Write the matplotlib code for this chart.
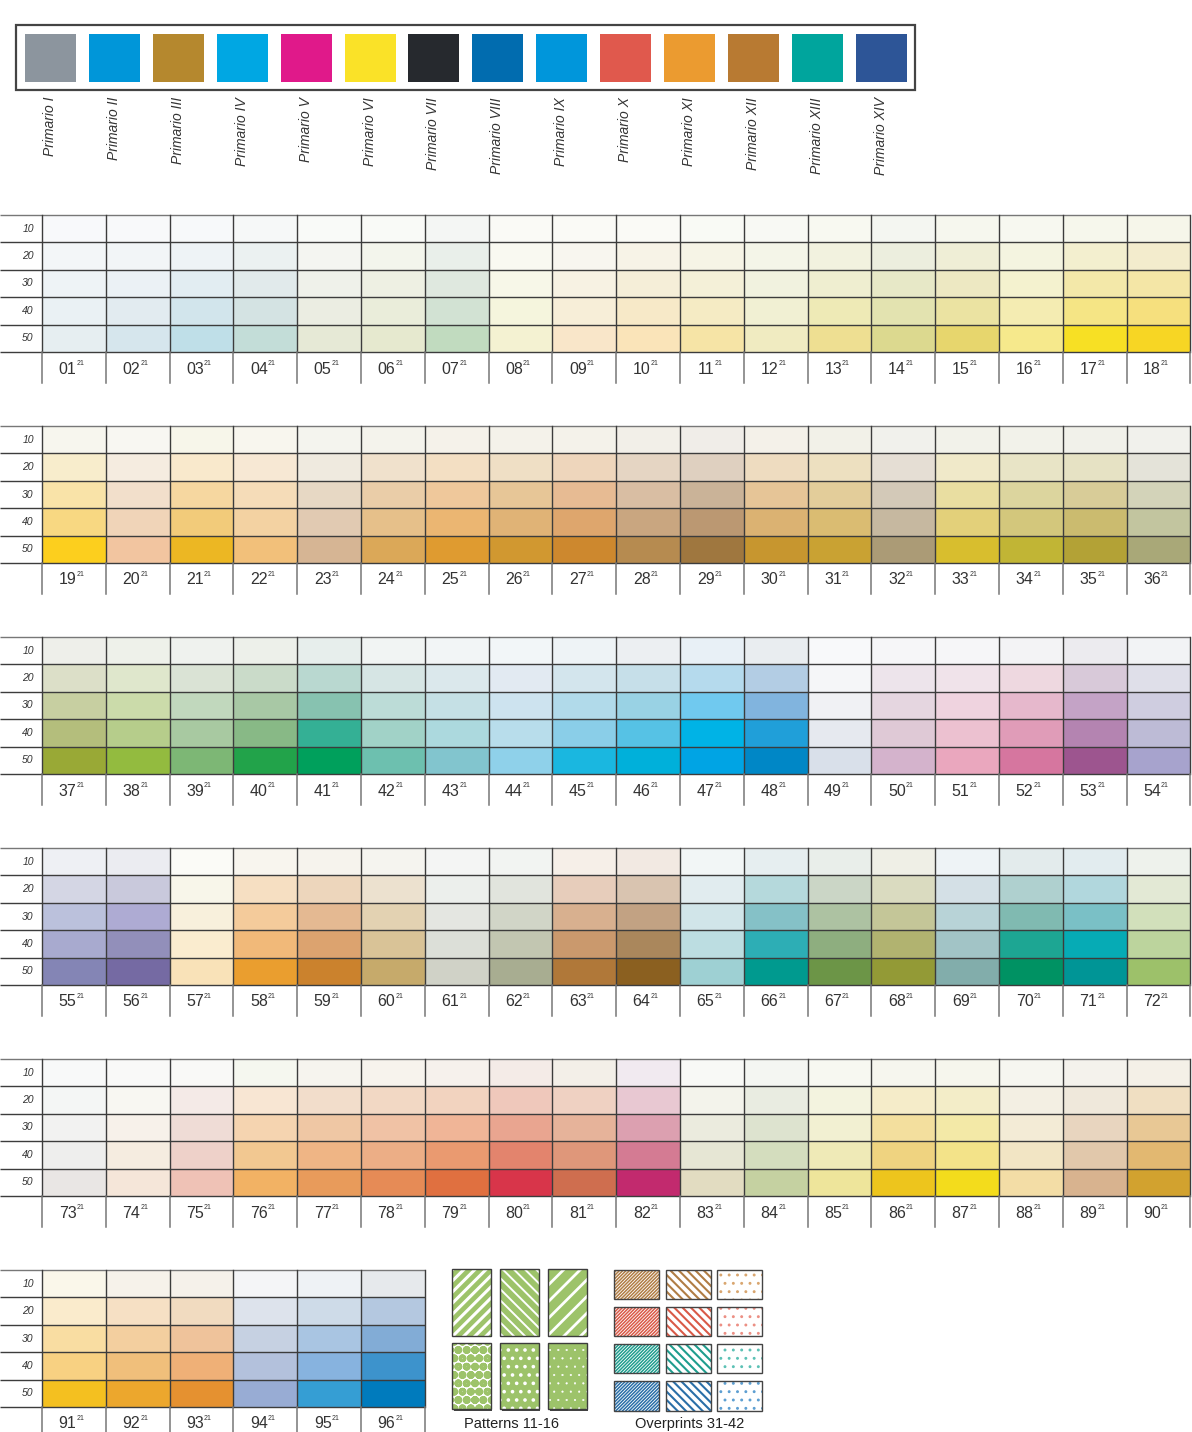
import matplotlib
matplotlib.use('Agg')
import matplotlib.pyplot as plt
from matplotlib import font_manager
from matplotlib.patches import Rectangle

plt.rcParams['font.family'] = ['Liberation Sans', 'DejaVu Sans']
plt.rcParams['hatch.linewidth'] = 1.6

installed = {f.name for f in font_manager.fontManager.ttflist}
num_font = 'Liberation Sans Narrow' if 'Liberation Sans Narrow' in installed else 'Liberation Sans'

primaries = ['#8c959e', '#0096d9', '#b5882e', '#00a7e3', '#e0198a', '#fae228', '#26292e',
             '#016caf', '#0096db', '#e0594d', '#eb9b30', '#b87a32', '#00a59d', '#2d5597']
primary_names = ['Primario I', 'Primario II', 'Primario III', 'Primario IV', 'Primario V',
                 'Primario VI', 'Primario VII', 'Primario VIII', 'Primario IX', 'Primario X',
                 'Primario XI', 'Primario XII', 'Primario XIII', 'Primario XIV']

tint_rows = ['10', '20', '30', '40', '50']

# each column: tints 10, 20, 30, 40, 50
block1 = [
    ['#f8f9fb', '#f3f6f8', '#eef3f6', '#eaf1f4', '#e6eef1'],
    ['#f8f9fa', '#f2f5f7', '#ebf1f5', '#e2ebf0', '#d6e6ed'],
    ['#f7f9fa', '#eef3f6', '#e2edf2', '#d2e5ec', '#bfdfe8'],
    ['#f6f8f8', '#ebf1f1', '#e1eaeb', '#d4e3e3', '#c3ddd8'],
    ['#f9faf8', '#f4f5f1', '#eff1ea', '#ebede2', '#e6e9d6'],
    ['#f9faf7', '#f3f5ec', '#eef0e3', '#eaedda', '#e6e9cf'],
    ['#f4f6f4', '#e9efea', '#dfe8df', '#d2e2d3', '#c1dbbf'],
    ['#fafaf6', '#f9f9f1', '#f7f7e8', '#f5f5dd', '#f4f2d2'],
    ['#fafaf6', '#f8f6ef', '#f7f2e3', '#f7eed8', '#f9e6c9'],
    ['#fafaf6', '#f7f3e7', '#f5eed8', '#f7e9c8', '#fae4b9'],
    ['#f9faf5', '#f6f4e6', '#f4f0d8', '#f5ebc4', '#f6e4a6'],
    ['#f8f9f4', '#f4f5e8', '#f1f2df', '#f1f0d3', '#f0ebc1'],
    ['#f8f9f1', '#f2f2df', '#efeed0', '#eeeab6', '#eedf92'],
    ['#f4f6f1', '#eceede', '#e7e8c7', '#e3e3b0', '#dcd98f'],
    ['#f6f7ee', '#efeed6', '#ede8c2', '#ebe3a2', '#e7d66d'],
    ['#f7f8f0', '#f4f4e0', '#f4f2cf', '#f4ecb2', '#f6e98c'],
    ['#f6f7ec', '#f3efcf', '#f3e8a9', '#f5e585', '#f7e024'],
    ['#f6f6ea', '#f3eccd', '#f4e6a6', '#f6e07e', '#f7d624'],
]
block2 = [
    ['#f7f6ee', '#f8edcc', '#f9e3a8', '#f8d882', '#fccf1e'],
    ['#f8f7f2', '#f5ece0', '#f2dfcb', '#f0d4b8', '#f2c5a0'],
    ['#f7f6ea', '#f9e9cc', '#f6d7a0', '#f2cb7a', '#ecb723'],
    ['#f8f6ee', '#f7e8d4', '#f5dcb8', '#f3d2a2', '#f2c07a'],
    ['#f4f4ee', '#efeadf', '#e7d8c4', '#e1cab2', '#d6b594'],
    ['#f4f3ec', '#f0e1cc', '#eacda8', '#e6c08a', '#dba858'],
    ['#f5f2ea', '#f3dfc3', '#efc89b', '#ebb672', '#df9b30'],
    ['#f4f2ea', '#efdfc5', '#e7c697', '#e0b376', '#d19830'],
    ['#f4f2ea', '#eed6bc', '#e7bb93', '#dea66d', '#cd882e'],
    ['#f2efe8', '#e5d5c3', '#d9bea3', '#c9a680', '#b68b50'],
    ['#f0ede8', '#dfd0c0', '#cab398', '#bb9872', '#9f773f'],
    ['#f4f1e9', '#eedcc0', '#e6c597', '#dbb272', '#c7962f'],
    ['#f2f1e8', '#ede0c0', '#e3cd9a', '#dabc72', '#c9a233'],
    ['#f1f1ec', '#e5ded4', '#d3c9b8', '#c6b8a0', '#ab9b76'],
    ['#f2f2ea', '#f0e9c9', '#e9dea1', '#e3d07a', '#d8be2e'],
    ['#f2f2ea', '#e8e4c6', '#dcd59e', '#d3c77c', '#c1b535'],
    ['#f1f1ea', '#e6e2c4', '#d8cc98', '#cbbb6f', '#b3a236'],
    ['#f1f1ec', '#e4e3d9', '#d3d3b9', '#c2c59f', '#a9a878'],
]
block3 = [
    ['#eeefea', '#dcdfc8', '#c7cfa1', '#b4be7c', '#99a936'],
    ['#eef1ea', '#dfe7cc', '#cbdbaa', '#b6cd8b', '#93bb3f'],
    ['#eff2ee', '#dae3d5', '#c1d8bd', '#a8c9a1', '#7db775'],
    ['#edf0ea', '#cadbc9', '#a8c8a5', '#88b986', '#22a34a'],
    ['#e7eeec', '#b9d8d0', '#87c2b0', '#34b095', '#00a05c'],
    ['#f1f4f3', '#d6e5e4', '#bcdcd7', '#a1d2c7', '#6dc0af'],
    ['#f2f5f6', '#dbe8ec', '#c5e0e5', '#acd9de', '#82c5ce'],
    ['#f2f6f8', '#e2eaf2', '#cde3ef', '#b8ddeb', '#8fd1ea'],
    ['#eef3f6', '#d3e5ed', '#b1daea', '#8acee8', '#1ab7e0'],
    ['#eceff2', '#c6dfe9', '#99d2e4', '#56c2e5', '#00b0da'],
    ['#e8f0f6', '#b5daed', '#70c9ef', '#00b3e6', '#00a4e4'],
    ['#e9edf0', '#b3cde4', '#81b4de', '#209fd9', '#0087c6'],
    ['#f8f9fa', '#f5f6f8', '#f0f1f4', '#e6e9ef', '#d9e0ea'],
    ['#f6f6f8', '#ede4eb', '#e5d6e0', '#dfc9d6', '#d4b3cc'],
    ['#f6f6f8', '#f0e3ea', '#efd3df', '#ecc1d0', '#eaa7be'],
    ['#f3f3f5', '#eed8e0', '#e6b8cc', '#e09cb8', '#d6769f'],
    ['#ecebef', '#d8c9d9', '#c4a3c6', '#b484b1', '#9d558f'],
    ['#f2f3f5', '#dfdfe9', '#cfcde0', '#bdbbd6', '#a7a3cd'],
]
block4 = [
    ['#eef0f4', '#d4d6e4', '#bbc1dc', '#a8aacf', '#8485b5'],
    ['#ebecf1', '#c9c9dc', '#aeabd3', '#928fba', '#756aa3'],
    ['#fbfbf7', '#f8f6ea', '#f8f0dc', '#faeccf', '#f9e2b8'],
    ['#f8f5ee', '#f6dfc2', '#f4cb9b', '#f1b979', '#ea9e2f'],
    ['#f6f3ed', '#edd6bc', '#e4b992', '#dca36f', '#cb822d'],
    ['#f5f4ef', '#ece1cf', '#e3d2b2', '#d9c397', '#c6aa6b'],
    ['#f4f5f4', '#ecefec', '#e4e6e1', '#dcdfd8', '#d0d2c7'],
    ['#f2f4f2', '#e1e4dd', '#d1d5c7', '#c2c6b1', '#a8ad91'],
    ['#f6efe8', '#e7cdbb', '#d8b08f', '#ca996d', '#b07839'],
    ['#f2e9e2', '#d9c4b0', '#c2a283', '#aa875c', '#8b6020'],
    ['#f2f6f6', '#e1ecef', '#d1e5e9', '#bcdde1', '#9ed0d3'],
    ['#e6eef0', '#b5d9dc', '#85c1c7', '#2daeb5', '#009a8f'],
    ['#e9eeea', '#cbd6c6', '#adc2a2', '#8eae7f', '#6c9547'],
    ['#efefe6', '#dadbc0', '#c4c698', '#b1b370', '#939a36'],
    ['#eef3f6', '#d4e0e6', '#b8d3d7', '#a2c4c6', '#82adab'],
    ['#e3ebec', '#afd0cf', '#80bab1', '#1da693', '#009263'],
    ['#e2ecef', '#b1d7dd', '#7ac0c6', '#06abb5', '#009596'],
    ['#eef2ec', '#e3e9d5', '#d2e0bb', '#bcd49d', '#9dc16a'],
]
block5 = [
    ['#f8f9f9', '#f4f6f5', '#f2f2f1', '#eeeeed', '#e9e6e4'],
    ['#f9f9f8', '#f8f7f2', '#f7f1ea', '#f5ece0', '#f5e6d9'],
    ['#f9f9f7', '#f4eae7', '#efdcd6', '#eed1c9', '#efc2b6'],
    ['#f5f7ef', '#f8e6d3', '#f5d4b0', '#f2c891', '#f2b264'],
    ['#f6f4ee', '#f2ddcb', '#efc7a4', '#efb585', '#e89b5b'],
    ['#f7f3ed', '#f2d8c4', '#f0c2a5', '#ecae86', '#e68b56'],
    ['#f6f1ec', '#f2d3bf', '#f0b597', '#ea9a70', '#e07040'],
    ['#f4ebe7', '#efc8bb', '#e9a590', '#e3846d', '#d8354a'],
    ['#f3efe8', '#efd1c2', '#e6b39a', '#df977a', '#cf6e4f'],
    ['#f1eaf0', '#e8c8d2', '#dca0b0', '#d47b93', '#c22a6e'],
    ['#f8f9f6', '#f3f3eb', '#ebebde', '#e6e6d4', '#e2dcc1'],
    ['#f4f6f2', '#e9ece1', '#dde3cf', '#d4ddbe', '#c5d1a1'],
    ['#f7f8f1', '#f3f3df', '#f2f0d2', '#efeab7', '#eee59b'],
    ['#f6f6ee', '#f5ecc9', '#f3df9e', '#efd380', '#edc51d'],
    ['#f6f6ed', '#f3edc8', '#f3e9a7', '#f3e389', '#f3dc1c'],
    ['#f6f6f0', '#f3efe3', '#f3ebd6', '#f2e5c4', '#f3dda6'],
    ['#f4f2ec', '#efe8db', '#e8d5bf', '#e1c8ab', '#d8b38f'],
    ['#f4f0e7', '#f0dfc2', '#e8c895', '#e2b871', '#d2a22f'],
]
block6 = [
    ['#faf7ea', '#faebcc', '#f9dda2', '#f8d182', '#f4c020'],
    ['#f6f2ea', '#f6e0c4', '#f3cf9f', '#f0bf7b', '#eca72d'],
    ['#f5f1ea', '#f1dbc0', '#efc39b', '#efb077', '#e59130'],
    ['#f4f5f7', '#dde3ec', '#c6d1e2', '#b3c1dc', '#98acd4'],
    ['#eef2f5', '#cedbe8', '#a9c5e2', '#87b3df', '#359ed4'],
    ['#e6e9ec', '#b4c8e0', '#82acd6', '#3d93cc', '#007bbd'],
]
blocks = [block1, block2, block3, block4, block5, block6]

pattern_green = '#9dc36a'
# (face, hatch colour, hatch, hatch line width)
pattern_styles = [
    (pattern_green, 'white', '/' * 3, 2.2),
    (pattern_green, 'white', '\\' * 3, 1.4),
    (pattern_green, 'white', '/' * 2, 2.0),
    ('white', pattern_green, 'o' * 2, 3.2),
    (pattern_green, 'white', '.' * 2, 1.4),
    (pattern_green, 'white', '.' * 2, 0.3),
]
overprint_colors = ['#b07d45', '#d95a48', '#1f9d8e', '#2a6fa8']
overprint_light = ['#d9a66f', '#ec8f84', '#5cc1b5', '#5d9fd2']
overprint_hatches = ['/' * 10, '\\' * 4, '.' * 2]
overprint_lw = [1.1, 1.5, 0.9]

fig = plt.figure(figsize=(11.92, 14.32), dpi=100)
ax = fig.add_axes([0, 0, 1, 1])
ax.set_xlim(0, 1192)
ax.set_ylim(1432, 0)
ax.axis('off')


def hatched(xy, w, h, fc, hc, hatch, hlw):
    p = Rectangle(xy, w, h, fc=fc, ec=hc, lw=0, hatch=hatch)
    if hasattr(p, 'set_hatch_linewidth'):
        p.set_hatch_linewidth(hlw)
    ax.add_patch(p)


# primaries box
ax.add_patch(Rectangle((16, 25), 899, 65, fc='white', ec='#444444', lw=1.6))
SW = 63.9
for k, c in enumerate(primaries):
    ax.add_patch(Rectangle((25 + k * SW, 34), 51, 48, fc=c, ec='none'))
    ax.text(50 + k * SW, 97, primary_names[k], rotation=90, ha='center', va='top',
            style='italic', fontsize=10, color='#333333')

# tint grids
X0 = 42
CW = 63.8
RH = 27.4
for b, cols in enumerate(blocks):
    y0 = 215 + b * 211
    n = len(cols)
    right = X0 + n * CW
    for j, col in enumerate(cols):
        for i, c in enumerate(col):
            ax.add_patch(Rectangle((X0 + j * CW, y0 + i * RH), CW, RH, fc=c, ec='none'))
    for i in range(6):
        ax.plot([0, right], [y0 + i * RH] * 2, color='#3c3c3c' if i else '#777777', lw=1.0,
                solid_capstyle='butt')
    for j in range(n + 1):
        ax.plot([X0 + j * CW] * 2, [y0, y0 + 5 * RH], color='#3c3c3c', lw=1.0)
        ax.plot([X0 + j * CW] * 2, [y0 + 5 * RH, y0 + 5 * RH + 31], color='#777777', lw=1.1)
    for i, lab in enumerate(tint_rows):
        ax.text(28, y0 + (i + 0.5) * RH, lab, ha='center', va='center', style='italic',
                fontsize=7.5, color='#333333')
    start = sum(len(bb) for bb in blocks[:b])
    for j in range(n):
        cx = X0 + (j + 0.5) * CW
        ty = y0 + 5 * RH + 17
        ax.text(cx + 2.5, ty, f'{start + j + 1:02d}', ha='right', va='center',
                fontsize=11.5, family=num_font, color='#333333')
        ax.text(cx + 2.5, ty - 5.5, '21', ha='left', va='center', fontsize=5,
                family=num_font, color='#333333')

# patterns
for k, (fc, hc, h, hlw) in enumerate(pattern_styles):
    px = 452 + (k % 3) * 48
    py = 1269 + (k // 3) * 73.5
    ax.add_patch(Rectangle((px + 1.5, py + 1.5), 38.5, 66.5, fc='#444444', ec='none'))
    hatched((px, py), 38.5, 66.5, fc, hc, h, hlw)
    ax.add_patch(Rectangle((px, py), 38.5, 66.5, fill=False, ec='#3c3c3c', lw=1.0))

# overprints
for r, c in enumerate(overprint_colors):
    for k, h in enumerate(overprint_hatches):
        px = 614 + k * 51.7
        py = 1269.5 + r * 37.2
        hc = overprint_light[r] if k == 2 else c
        hatched((px, py), 45, 29.4, 'white', hc, h, overprint_lw[k])
        ax.add_patch(Rectangle((px, py), 45, 29.4, fill=False, ec='#444444', lw=1.0))

ax.text(511, 1417, 'Patterns 11-16', ha='center', va='top', fontsize=10.5, color='#222222')
ax.text(690, 1417, 'Overprints 31-42', ha='center', va='top', fontsize=10.5, color='#222222')

fig.savefig('out.png', dpi=100)
